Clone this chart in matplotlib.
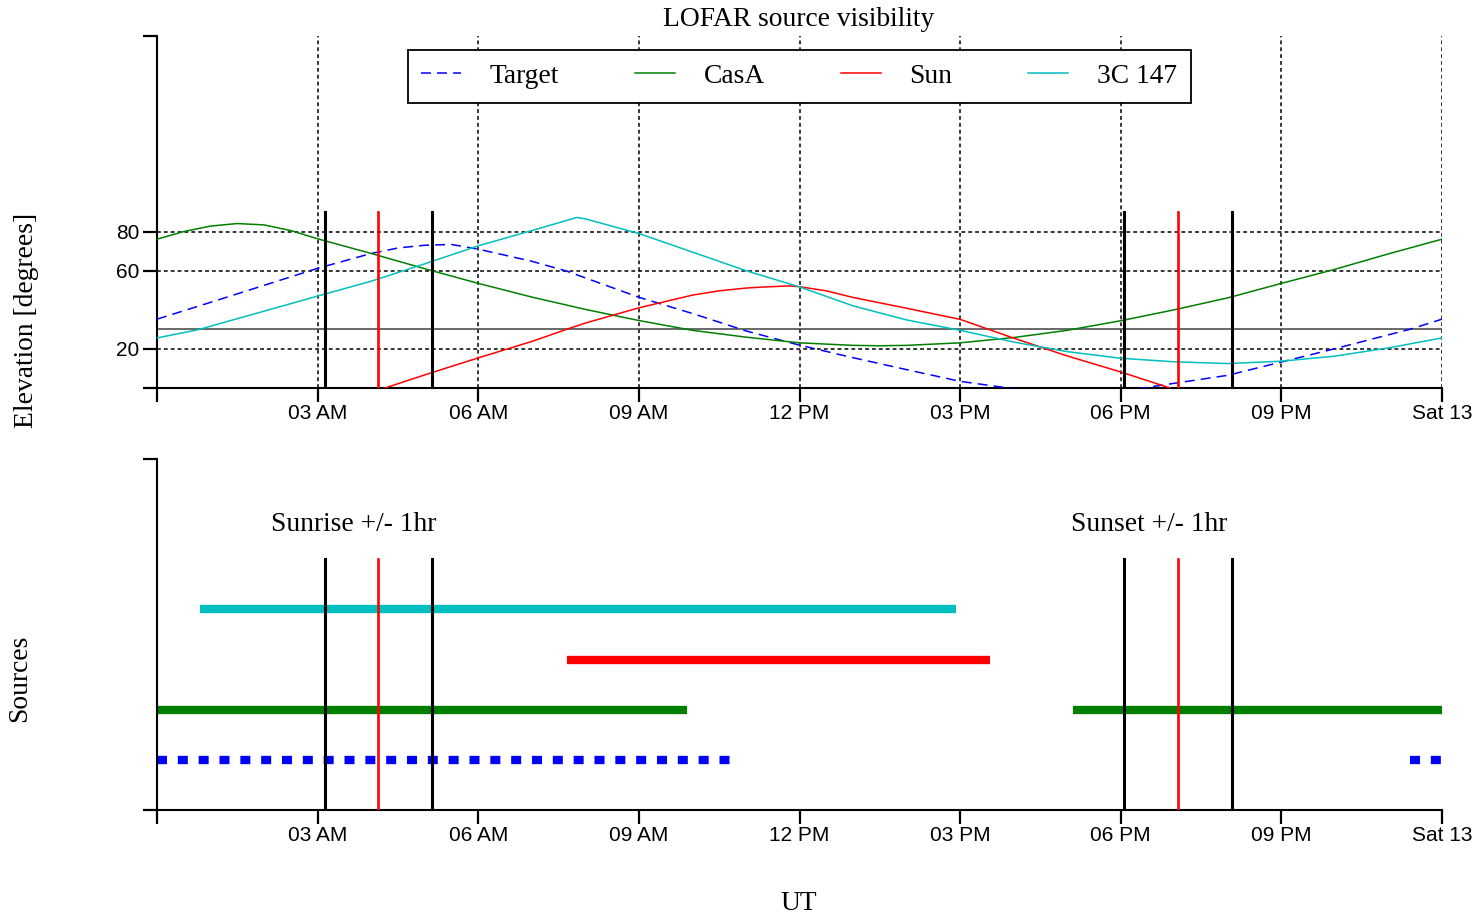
import numpy as np
import matplotlib
matplotlib.use("Agg")
import matplotlib.pyplot as plt

# hours UT, elevations (degrees)
target_t = [0, 1, 2, 3, 4, 4.5, 5, 5.5, 6, 7, 7.65, 8, 9, 10, 11, 12, 13, 14, 15, 15.9, 16.5, 17.3, 18, 18.42, 19, 20, 21, 22, 23, 23.4, 24]
target_el = [35.2, 43.8, 52.5, 61.2, 68.8, 71.6, 73.0, 73.4, 71.0, 64.8, 59.8, 56.3, 46.4, 38.1, 29.2, 21.9, 15.5, 9.4, 3.4, 0.0, -2.0, -3.0, -1.5, 0.0, 2.4, 6.5, 13.3, 20.1, 27.2, 30.0, 35.2]

casa_t = [0, 0.5, 1, 1.5, 2, 2.5, 3, 4, 5, 6, 7, 8, 9, 10, 11, 12, 13, 13.5, 14, 15, 16, 17, 18, 19, 20, 21, 22, 23, 24]
casa_el = [76.1, 80.0, 82.8, 84.1, 83.4, 80.5, 76.3, 68.8, 61.0, 53.5, 46.5, 40.2, 34.5, 29.5, 26.0, 23.1, 21.8, 21.6, 21.8, 23.1, 25.8, 29.5, 34.4, 40.0, 46.1, 53.5, 60.7, 68.6, 76.1]

sun_t = [4.26, 5, 6, 7, 7.65, 8, 9, 10, 10.5, 11, 11.3, 11.8, 12, 12.5, 13, 14, 15, 16, 17, 18, 18.92]
sun_el = [0.0, 6.7, 15.4, 23.8, 30.0, 33.2, 41.0, 47.5, 49.7, 51.1, 51.6, 52.2, 51.8, 49.7, 46.3, 40.8, 35.1, 25.5, 16.4, 8.2, 0.0]

c147_t = [0, 0.8, 1, 2, 3, 4, 5, 6, 7, 7.84, 8, 9, 10, 11, 12, 13, 14, 15, 16, 17, 18, 19, 20, 21, 22, 23, 24]
c147_el = [25.6, 30.0, 31.6, 39.3, 47.0, 54.6, 63.5, 72.7, 80.5, 87.2, 86.5, 79.0, 69.5, 60.0, 51.7, 42.0, 34.8, 29.5, 23.5, 18.6, 15.2, 13.4, 12.5, 13.7, 16.3, 20.5, 25.6]

names = ["Target", "CasA", "Sun", "3C 147"]
colors = ["b", "g", "r", "c"]

# visibility windows above the elevation limit (start, end) in hours
windows = {
    "Target": [(0, 10.89), (23.4, 24)],
    "CasA": [(0, 9.9), (17.1, 24)],
    "Sun": [(7.66, 15.56)],
    "3C 147": [(0.8, 14.92)],
}
rows = {"Target": 1, "CasA": 2, "Sun": 3, "3C 147": 4}

sunrise = 4.13
sunset = 19.07
elev_limit = 30

xticks = [0, 3, 6, 9, 12, 15, 18, 21, 24]
xticklabels = ["", "03 AM", "06 AM", "09 AM", "12 PM", "03 PM", "06 PM", "09 PM", "Sat 13"]

serif = ["Liberation Serif", "DejaVu Serif"]
sans = ["Liberation Sans", "DejaVu Sans"]
plt.rcParams["font.family"] = sans

W, H = 1482, 916
fig = plt.figure(figsize=(W / 100, H / 100), dpi=100)
L, R = 157 / W, 1442 / W
ax1 = fig.add_axes([L, 1 - 388 / H, R - L, (388 - 36) / H])
ax2 = fig.add_axes([L, 1 - 810 / H, R - L, (810 - 459) / H])

grid = dict(color="k", lw=1.1, linestyle=(0, (2.5, 2)), zorder=1)

# top: elevation curves
ax1.plot(target_t, target_el, color="b", lw=1.1, linestyle=(0, (6.5, 4)), label="Target", zorder=3)
ax1.plot(casa_t, casa_el, color="g", lw=1.1, label="CasA", zorder=3)
ax1.plot(sun_t, sun_el, color="r", lw=1.1, label="Sun", zorder=3)
ax1.plot(c147_t, c147_el, color="c", lw=1.1, label="3C 147", zorder=3)

for x in xticks[1:]:
    ax1.axvline(x, **grid)
for y in [20, 60, 80]:
    ax1.axhline(y, **grid)
ax1.axhline(elev_limit, color="0.25", lw=1.1, zorder=2)

for c in [sunrise, sunset]:
    ax1.plot([c - 1, c - 1], [0, 90], color="k", lw=2.2, zorder=4)
    ax1.plot([c + 1, c + 1], [0, 90], color="k", lw=2.2, zorder=4)
    ax1.plot([c, c], [0, 90], color="r", lw=1.9, zorder=4)

ax1.set_ylim(0, 180)
ax1.set_yticks([0, 20, 60, 80, 180])
ax1.set_yticklabels(["", "20", "60", "80", ""])

leg = ax1.legend(loc="upper center", bbox_to_anchor=(799 / W, 1 - 50 / H), bbox_transform=fig.transFigure,
                 ncol=4, frameon=True, fancybox=False, edgecolor="k", framealpha=1,
                 prop={"family": serif, "size": 19.8}, handlelength=1.45, handletextpad=1.05,
                 columnspacing=2.75, borderpad=0.5, borderaxespad=0)
leg.get_frame().set_linewidth(1.3)

# bottom: visibility bars
for name, col in zip(names, colors):
    for a, b in windows[name]:
        if name == "Target":
            ax2.plot([a, b], [rows[name]] * 2, color=col, lw=6, linestyle=(0, (1.2, 1.3)),
                     solid_capstyle="butt", dash_capstyle="butt", zorder=2)
        else:
            ax2.plot([a, b], [rows[name]] * 2, color=col, lw=6, solid_capstyle="butt", zorder=2)

for c in [sunrise, sunset]:
    ax2.plot([c - 1, c - 1], [0, 5], color="k", lw=2.2, zorder=4)
    ax2.plot([c + 1, c + 1], [0, 5], color="k", lw=2.2, zorder=4)
    ax2.plot([c, c], [0, 5], color="r", lw=1.9, zorder=4)
ax2.text(sunrise - 2, 5.7, "Sunrise +/- 1hr", family=serif, fontsize=19.8, va="center")
ax2.text(sunset - 2, 5.7, "Sunset +/- 1hr", family=serif, fontsize=19.8, va="center")

ax2.set_ylim(0, 7)
ax2.set_yticks([0, 7])
ax2.set_yticklabels(["", ""])

for ax in (ax1, ax2):
    ax.set_xlim(0, 24)
    ax.set_xticks(xticks)
    ax.set_xticklabels(xticklabels)
    ax.spines["top"].set_visible(False)
    ax.spines["right"].set_visible(False)
    for s in ("left", "bottom"):
        ax.spines[s].set_linewidth(1.5)
    ax.tick_params(length=10, width=1.6, labelsize=15, direction="out")
    ax.tick_params(axis="x", pad=1.5)
    ax.tick_params(axis="y", pad=2.5)

fig.text(799 / W, 1 - 20 / H, "LOFAR source visibility", family=serif, fontsize=19.8, ha="center", va="center")
fig.text(27 / W, 1 - 320 / H, "Elevation [degrees]", family=serif, fontsize=19.8, rotation=90, ha="center", va="center")
fig.text(20 / W, 1 - 678 / H, "Sources", family=serif, fontsize=19.8, rotation=90, ha="center", va="center")
fig.text(799 / W, 1 - 904 / H, "UT", family=serif, fontsize=19.8, ha="center", va="center")

fig.savefig("out.png", dpi=100)
